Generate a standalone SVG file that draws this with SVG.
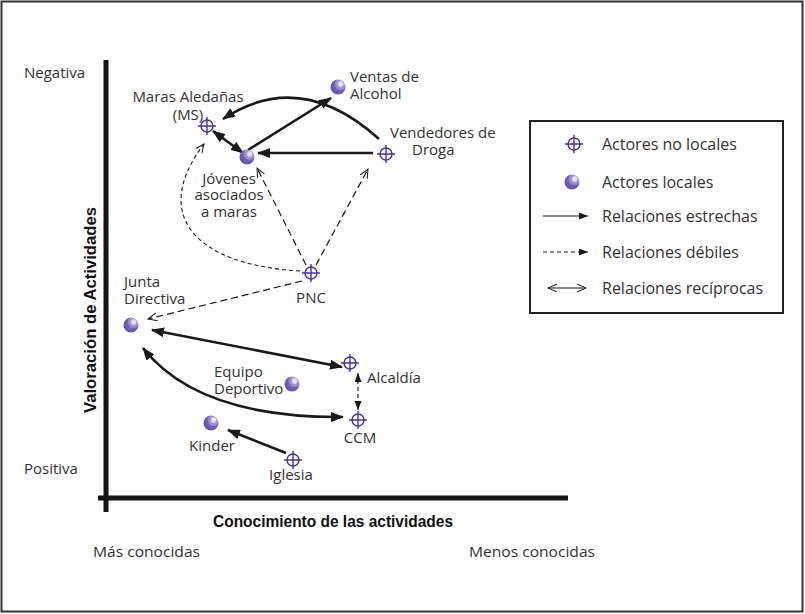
<svg xmlns="http://www.w3.org/2000/svg" xmlns:xlink="http://www.w3.org/1999/xlink" width="805" height="614" viewBox="0 0 805 614">
<style>
.t{font-family:"Open Sans","Liberation Sans",sans-serif;font-size:15px;fill:#333}
.lg{font-family:"Open Sans","Liberation Sans",sans-serif;font-size:16px;fill:#333}
.b{font-family:"Liberation Sans",Arial,sans-serif;font-size:16px;font-weight:bold;fill:#111}
.s{fill:none;stroke:#1a1a1a;stroke-width:2.6}
.d{fill:none;stroke:#1a1a1a;stroke-width:1.2;stroke-dasharray:7 4}
.dc{fill:none;stroke:#1a1a1a;stroke-width:1.1;stroke-dasharray:4 3}
.ax{stroke:#151515;stroke-width:5;fill:none}
</style>
<defs>
<radialGradient id="sph" cx="0.68" cy="0.3" r="0.85" fx="0.68" fy="0.3">
<stop offset="0" stop-color="#f4f2fc"/>
<stop offset="0.2" stop-color="#d6d0f0"/>
<stop offset="0.24" stop-color="#a89ad8"/>
<stop offset="0.45" stop-color="#9482cc"/>
<stop offset="0.5" stop-color="#7562b8"/>
<stop offset="1" stop-color="#5c4aa4"/>
</radialGradient>
<g id="cross" fill="none" stroke="#4a2fa2" stroke-width="1.4">
<circle r="6"/>
<path d="M-9,0H9M0,-9V9"/>
</g>
<circle id="ball" r="7.5" fill="url(#sph)"/>
<marker id="ah" markerUnits="userSpaceOnUse" markerWidth="14" markerHeight="10" refX="12" refY="5" orient="auto-start-reverse"><path d="M0,0L13,5L0,10z" fill="#1a1a1a"/></marker>
<marker id="ao" markerUnits="userSpaceOnUse" markerWidth="10" markerHeight="9" refX="9" refY="4" orient="auto-start-reverse"><path d="M0,0L9,4L0,8" fill="none" stroke="#1a1a1a" stroke-width="1"/></marker>
<marker id="af" markerUnits="userSpaceOnUse" markerWidth="10" markerHeight="8" refX="9" refY="3.5" orient="auto-start-reverse"><path d="M0,0L9,3.5L0,7z" fill="#1a1a1a"/></marker>
</defs>
<rect x="1.5" y="1.5" width="801" height="610" fill="#fff" stroke="#333" stroke-width="2"/>
<g id="axes">
<path class="ax" d="M106,60V512M98,498H568"/>
<text class="t" x="24" y="78">Negativa</text>
<text class="t" x="24" y="474">Positiva</text>
<text class="b" transform="translate(96,310) rotate(-90)" text-anchor="middle" textLength="206" lengthAdjust="spacingAndGlyphs">Valoración de Actividades</text>
<text class="b" x="333" y="527" text-anchor="middle" textLength="240" lengthAdjust="spacingAndGlyphs">Conocimiento de las actividades</text>
<text class="t" x="93" y="557" textLength="107" lengthAdjust="spacingAndGlyphs">Más conocidas</text>
<text class="t" x="469" y="557" textLength="126" lengthAdjust="spacingAndGlyphs">Menos conocidas</text>
</g>
<g id="connectors">
<path class="s" d="M248,150L331,98" marker-end="url(#ah)"/>
<path class="s" d="M379,139Q300,68 223,119" marker-end="url(#ah)"/>
<path class="s" d="M213,131L243,153" marker-start="url(#ah)" marker-end="url(#ah)"/>
<path class="s" d="M373,153H258" marker-end="url(#ah)"/>
<path class="dc" d="M300,271C195,265 150,215 204,144" marker-end="url(#ao)"/>
<path class="d" d="M306,265L257,168" marker-end="url(#ao)"/>
<path class="d" d="M316,265L368,169" marker-end="url(#ao)"/>
<path class="d" d="M302,281L148,319" marker-end="url(#ao)"/>
<path class="s" d="M152,330L342,367" marker-start="url(#ah)" marker-end="url(#ah)"/>
<path class="s" d="M143,348Q198,418 343,417" marker-start="url(#ah)" marker-end="url(#ah)"/>
<path class="dc" d="M358,373V410" marker-start="url(#af)" marker-end="url(#af)"/>
<path class="s" d="M286,453L228,430" marker-end="url(#ah)"/>
</g>
<g id="maras"><use xlink:href="#cross" x="207" y="126"/><text class="t" text-anchor="middle"><tspan x="188" y="102">Maras Aledañas</tspan><tspan x="188" y="120">(MS)</tspan></text></g>
<g id="ventas"><use xlink:href="#ball" x="338" y="87"/><text class="t"><tspan x="350" y="82">Ventas de</tspan><tspan x="350" y="99">Alcohol</tspan></text></g>
<g id="jovenes"><use xlink:href="#ball" x="247" y="157"/><text class="t" text-anchor="middle"><tspan x="229" y="184">Jóvenes</tspan><tspan x="229" y="200">asociados</tspan><tspan x="229" y="217">a maras</tspan></text></g>
<g id="vendedores"><use xlink:href="#cross" x="386" y="154"/><text class="t"><tspan x="390" y="138">Vendedores de</tspan><tspan x="412" y="155">Droga</tspan></text></g>
<g id="pnc"><use xlink:href="#cross" x="311" y="273"/><text class="t" x="311" y="303" text-anchor="middle">PNC</text></g>
<g id="junta"><use xlink:href="#ball" x="131" y="325"/><text class="t"><tspan x="124" y="287">Junta</tspan><tspan x="124" y="304">Directiva</tspan></text></g>
<g id="alcaldia"><use xlink:href="#cross" x="350" y="363"/><text class="t" x="367" y="383">Alcaldía</text></g>
<g id="equipo"><use xlink:href="#ball" x="292" y="384"/><text class="t"><tspan x="214" y="377">Equipo</tspan><tspan x="214" y="394">Deportivo</tspan></text></g>
<g id="ccm"><use xlink:href="#cross" x="358" y="420"/><text class="t" x="360" y="443" text-anchor="middle">CCM</text></g>
<g id="kinder"><use xlink:href="#ball" x="211" y="423"/><text class="t" x="212" y="451" text-anchor="middle">Kinder</text></g>
<g id="iglesia"><use xlink:href="#cross" x="293" y="460"/><text class="t" x="291" y="480" text-anchor="middle">Iglesia</text></g>
<g id="legend">
<rect x="530" y="121" width="253" height="192" fill="none" stroke="#222" stroke-width="2"/>
<use xlink:href="#cross" x="574" y="144"/><text class="lg" x="602" y="150">Actores no locales</text>
<use xlink:href="#ball" x="572" y="182"/><text class="lg" x="602" y="188">Actores locales</text>
<path d="M543,216H588" stroke="#1a1a1a" stroke-width="1.2" marker-end="url(#af)"/><text class="lg" x="602" y="222">Relaciones estrechas</text>
<path d="M543,252H588" stroke="#1a1a1a" stroke-width="1.2" stroke-dasharray="4 3" marker-end="url(#af)"/><text class="lg" x="602" y="258">Relaciones débiles</text>
<path d="M548,288H586" stroke="#1a1a1a" stroke-width="1.2" marker-start="url(#ao)" marker-end="url(#ao)"/><text class="lg" x="602" y="294">Relaciones recíprocas</text>
</g>
</svg>
